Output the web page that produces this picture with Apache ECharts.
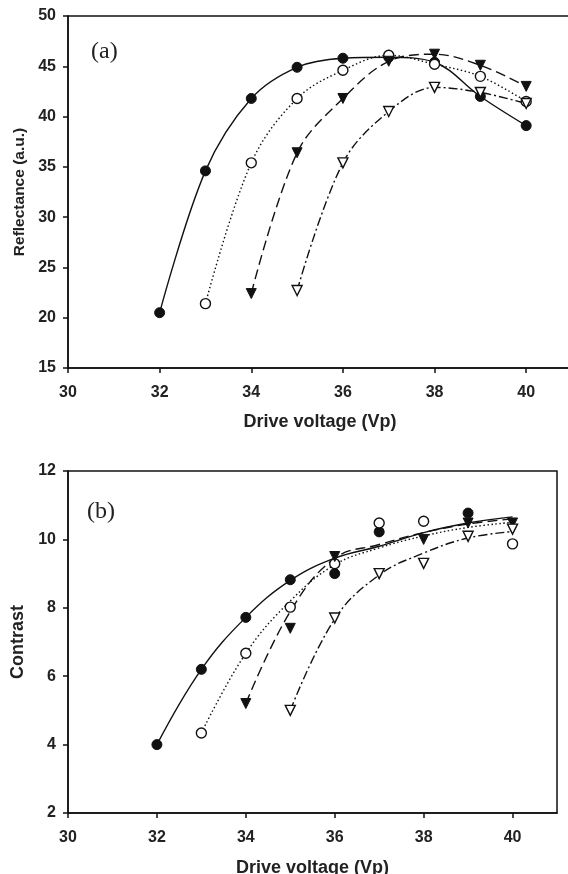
<!DOCTYPE html>
<html>
<head>
<meta charset="utf-8">
<script src="https://cdn.jsdelivr.net/npm/echarts@6/dist/echarts.min.js"></script>
<style>html,body{margin:0;padding:0;background:#fff}#c{width:568px;height:874px}</style>
</head>
<body>
<div id="c"></div>
<script>
// ---- data ----
var xTicks = [30, 32, 34, 36, 38, 40];
var refTicks = [15, 20, 25, 30, 35, 40, 45, 50];
var conTicks = [2, 4, 6, 8, 10, 12];

// (a) Reflectance
var refFilledCircleX = [32, 33, 34, 35, 36, 37, 38, 39, 40];
var refFilledCircle  = [20.5, 34.6, 41.8, 44.9, 45.8, 45.9, 45.4, 42.0, 39.1];
var refOpenCircleX   = [33, 34, 35, 36, 37, 38, 39, 40];
var refOpenCircle    = [21.4, 35.4, 41.8, 44.6, 46.1, 45.2, 44.0, 41.5];
var refFilledTriX    = [34, 35, 36, 37, 38, 39, 40];
var refFilledTri     = [22.4, 36.4, 41.8, 45.5, 46.2, 45.1, 43.0];
var refOpenTriX      = [35, 36, 37, 38, 39, 40];
var refOpenTri       = [22.7, 35.4, 40.5, 42.9, 42.4, 41.3];

// (b) Contrast measured points
var conFilledCircleX = [32, 33, 34, 35, 36, 37, 39];
var conFilledCircle  = [4.0, 6.2, 7.72, 8.82, 9.0, 10.22, 10.77];
var conOpenCircleX   = [33, 34, 35, 36, 37, 38, 40];
var conOpenCircle    = [4.34, 6.67, 8.02, 9.29, 10.48, 10.53, 9.87];
var conFilledTriX    = [34, 35, 36, 38, 39, 40];
var conFilledTri     = [5.2, 7.4, 9.5, 10.0, 10.48, 10.48];
var conOpenTriX      = [35, 36, 37, 38, 39, 40];
var conOpenTri       = [5.0, 7.7, 9.0, 9.3, 10.09, 10.3];

// (b) Contrast fitted curves
var fitSolidX   = [32, 33, 34, 35, 36, 37, 38, 39, 40];
var fitSolid    = [4.0, 6.2, 7.72, 8.8, 9.45, 9.8, 10.2, 10.48, 10.66];
var fitDottedX  = [33, 34, 35, 36, 37, 38, 39, 40];
var fitDotted   = [4.34, 6.67, 8.2, 9.26, 9.75, 10.1, 10.35, 10.5];
var fitDashedX  = [34, 35, 36, 37, 38, 39, 40];
var fitDashed   = [5.2, 7.89, 9.45, 9.85, 10.2, 10.45, 10.6];
var fitDashDotX = [35, 36, 37, 38, 39, 40];
var fitDashDot  = [5.0, 7.67, 8.96, 9.6, 10.04, 10.23];

function pairs(xs, ys) { return xs.map(function (x, i) { return [x, ys[i]]; }); }

var INK = '#111';
var FILLED = { color: INK, borderColor: INK, borderWidth: 1, opacity: 1 };
var OPEN = { color: '#fff', borderColor: INK, borderWidth: 1.4, opacity: 1 };
var DOT = [1.5, 2.5];
var DASH = [10, 5];
var DASHDOT = [9, 3, 2, 3];

function xAxisFor(gi, gap) {
  return {
    gridIndex: gi, type: 'value', min: 30, max: 41,
    name: 'Drive voltage (Vp)', nameLocation: 'middle', nameGap: gap,
    nameTextStyle: { fontFamily: 'Liberation Sans', fontWeight: 'bold', fontSize: 18, color: '#222' },
    axisLine: { show: true, lineStyle: { color: INK, width: 1.5 } },
    axisTick: { show: true, inside: false, length: 5, lineStyle: { color: INK, width: 1.5 }, customValues: xTicks },
    axisLabel: { show: true, margin: 17, customValues: xTicks, fontFamily: 'Liberation Sans', fontWeight: 'bold', fontSize: 16, color: '#222' },
    splitLine: { show: false }
  };
}
function yAxisFor(gi, name, min, max, interval, ticks, nameSize, gap) {
  return {
    gridIndex: gi, type: 'value', min: min, max: max, interval: interval,
    name: name, nameLocation: 'middle', nameRotate: 90, nameGap: gap,
    nameTextStyle: { fontFamily: 'Liberation Sans', fontWeight: 'bold', fontSize: nameSize, color: '#222' },
    axisLine: { show: true, lineStyle: { color: INK, width: 1.5 } },
    axisTick: { show: true, inside: false, length: 5, lineStyle: { color: INK, width: 1.5 }, customValues: ticks },
    axisLabel: { show: true, margin: 12, customValues: ticks, fontFamily: 'Liberation Sans', fontWeight: 'bold', fontSize: 16, color: '#222' },
    splitLine: { show: false }
  };
}

function refLine(xs, ys, symbol, rot, item, dash) {
  return {
    type: 'line', xAxisIndex: 0, yAxisIndex: 0, data: pairs(xs, ys), smooth: 0.35,
    symbol: symbol, symbolSize: 10, symbolRotate: rot, showAllSymbol: true,
    itemStyle: item, lineStyle: { color: INK, width: 1.4, type: dash }, z: 3
  };
}
function conPts(xs, ys, symbol, rot, item) {
  return {
    type: 'scatter', xAxisIndex: 1, yAxisIndex: 1, data: pairs(xs, ys),
    symbol: symbol, symbolSize: 10, symbolRotate: rot, itemStyle: item, z: 4
  };
}
function conFit(xs, ys, dash) {
  return {
    type: 'line', xAxisIndex: 1, yAxisIndex: 1, data: pairs(xs, ys), smooth: 0.4,
    symbol: 'none', lineStyle: { color: INK, width: 1.4, type: dash }, z: 3
  };
}

var chart = echarts.init(document.getElementById('c'), null, { renderer: 'canvas' });
chart.setOption({
  animation: false,
  backgroundColor: '#fff',
  title: [
    { text: '(a)', left: 91, top: 40, padding: 0, textStyle: { fontFamily: 'Liberation Serif', fontWeight: 'normal', fontSize: 24, color: '#222' } },
    { text: '(b)', left: 87, top: 500, padding: 0, textStyle: { fontFamily: 'Liberation Serif', fontWeight: 'normal', fontSize: 24, color: '#222' } }
  ],
  grid: [
    { left: 68, top: 16, right: -4, height: 352, outerBoundsMode: 'none', containLabel: false, show: true, borderColor: INK, borderWidth: 1.5, backgroundColor: 'transparent' },
    { left: 68, top: 471, right: 11, height: 342, outerBoundsMode: 'none', containLabel: false, show: true, borderColor: INK, borderWidth: 1.5, backgroundColor: 'transparent' }
  ],
  xAxis: [xAxisFor(0, 45), xAxisFor(1, 46)],
  yAxis: [
    yAxisFor(0, 'Reflectance (a.u.)', 15, 50, 5, refTicks, 15.5, 34),
    yAxisFor(1, 'Contrast', 2, 12, 2, conTicks, 18, 38)
  ],
  series: [
    refLine(refFilledCircleX, refFilledCircle, 'circle', 0, FILLED, 'solid'),
    refLine(refOpenCircleX, refOpenCircle, 'circle', 0, OPEN, DOT),
    refLine(refFilledTriX, refFilledTri, 'triangle', 180, FILLED, DASH),
    refLine(refOpenTriX, refOpenTri, 'triangle', 180, OPEN, DASHDOT),

    conFit(fitSolidX, fitSolid, 'solid'),
    conFit(fitDottedX, fitDotted, DOT),
    conFit(fitDashedX, fitDashed, DASH),
    conFit(fitDashDotX, fitDashDot, DASHDOT),
    conPts(conFilledCircleX, conFilledCircle, 'circle', 0, FILLED),
    conPts(conOpenCircleX, conOpenCircle, 'circle', 0, OPEN),
    conPts(conFilledTriX, conFilledTri, 'triangle', 180, FILLED),
    conPts(conOpenTriX, conOpenTri, 'triangle', 180, OPEN)
  ]
});
</script>
</body>
</html>
